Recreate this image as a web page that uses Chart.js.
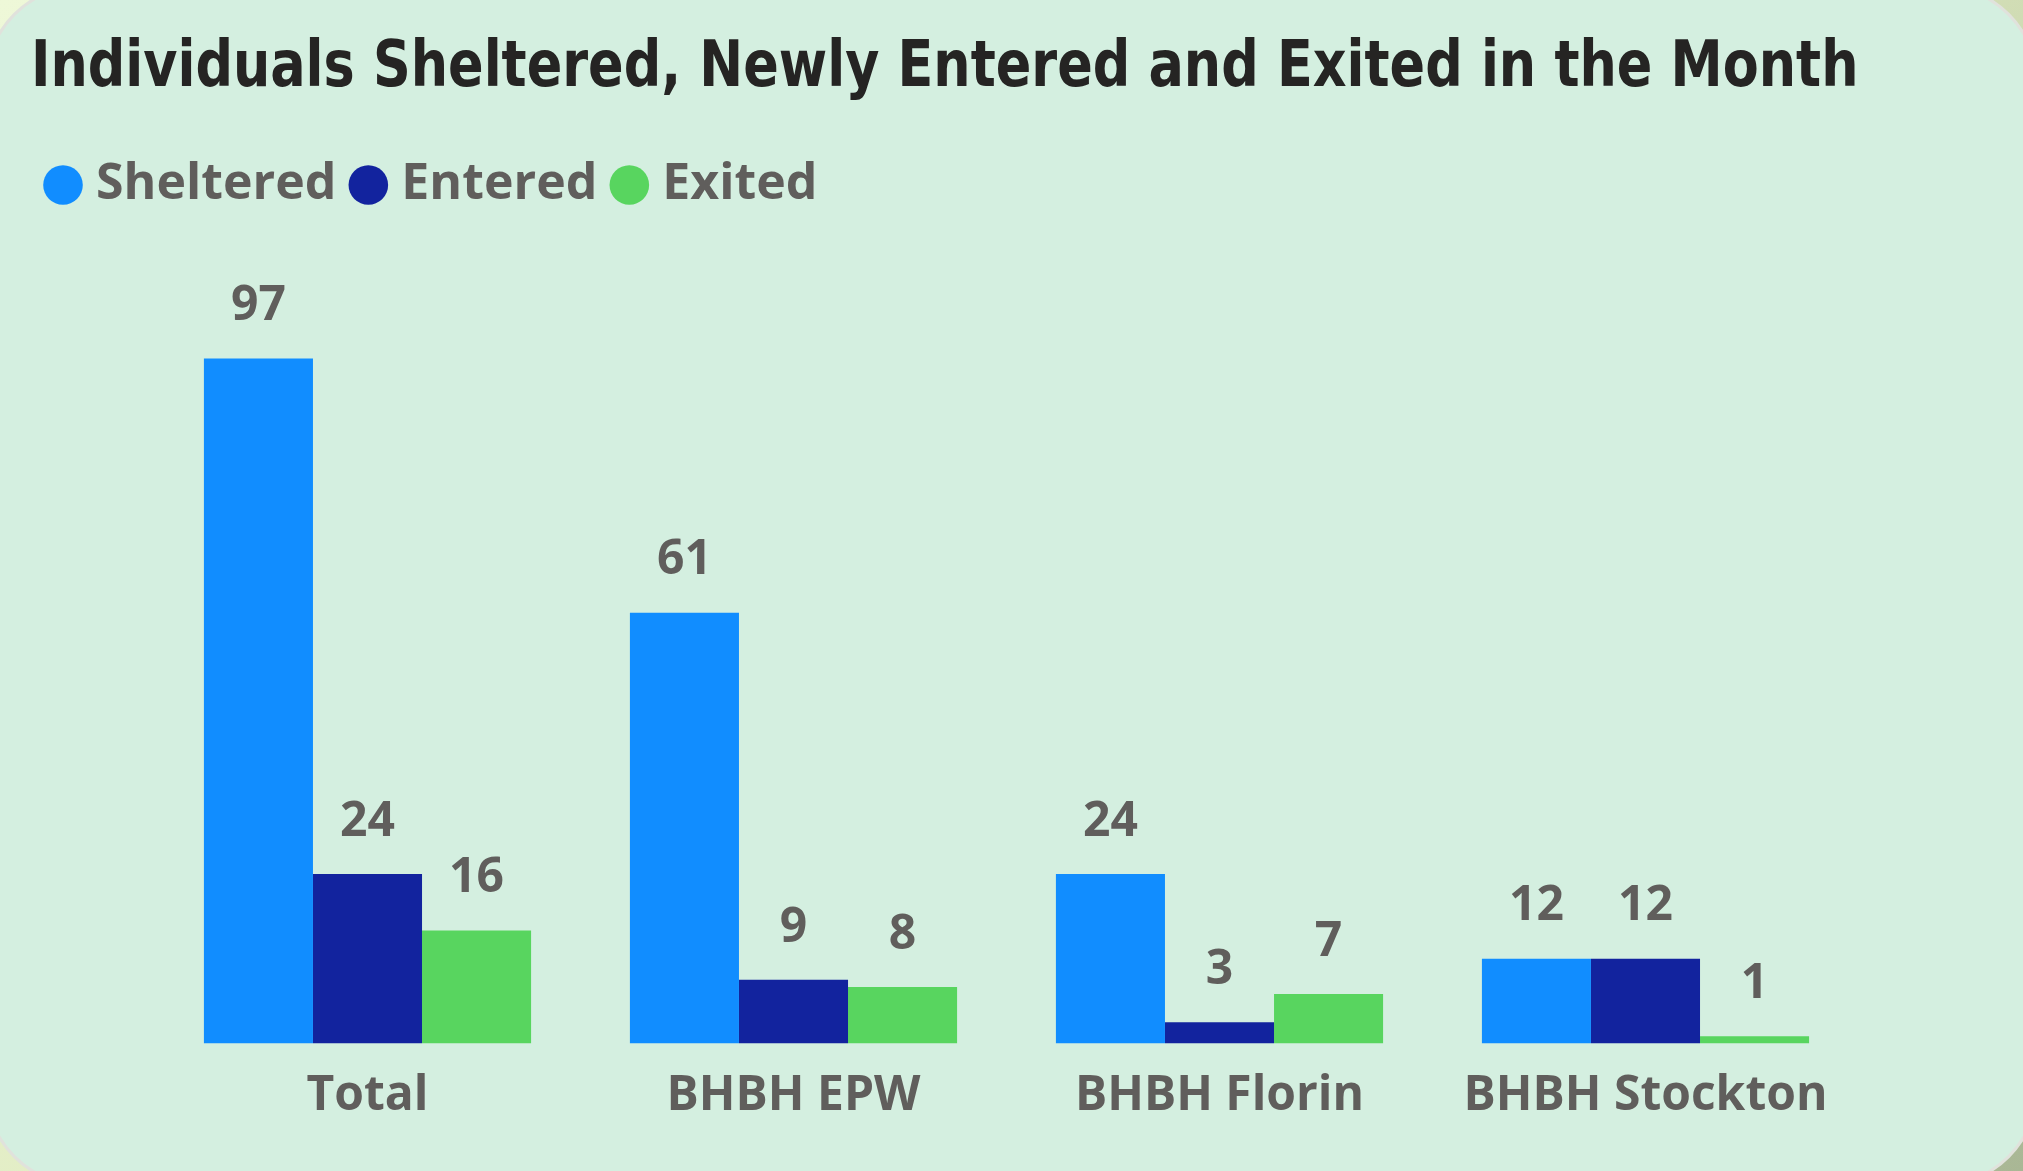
<!DOCTYPE html>
<html>
<head>
<meta charset="utf-8">
<script src="https://cdn.jsdelivr.net/npm/chart.js@4.4.0/dist/chart.umd.min.js"></script>
<style>
  html, body { margin: 0; padding: 0; width: 2023px; height: 1171px; overflow: hidden; }
  body { background: linear-gradient(135deg, #eef8d8 0%, #dfeac0 50%, #a9b795 100%); position: relative; }
  #card { position: absolute; left: -16px; top: -16px; width: 2049px; height: 1197px; border-radius: 100px;
          background: #d4efe0; border: 3px solid #e0e2dc; }
  #c { position: absolute; left: 0; top: 0; }
</style>
</head>
<body>
<div id="card"></div>
<canvas id="c" width="2023" height="1171"></canvas>
<script>
const categories = ["Total", "BHBH EPW", "BHBH Florin", "BHBH Stockton"];
const sheltered = [97, 61, 24, 12];
const entered = [24, 9, 3, 12];
const exited = [16, 8, 7, 1];
const seriesNames = ["Sheltered", "Entered", "Exited"];
const titleText = "Individuals Sheltered, Newly Entered and Exited in the Month";

const valueLabels = {
  id: 'valueLabels',
  afterDatasetsDraw(chart) {
    const ctx = chart.ctx;
    ctx.save();
    ctx.font = "bold 48px 'Open Sans', 'Noto Sans', sans-serif";
    ctx.fillStyle = '#605E5C';
    ctx.textAlign = 'center';
    ctx.textBaseline = 'middle';
    chart.data.datasets.forEach((ds, i) => {
      const meta = chart.getDatasetMeta(i);
      meta.data.forEach((el, j) => {
        ctx.fillText(String(ds.data[j]), el.x, el.y - 52);
      });
    });
    ctx.restore();
  }
};

new Chart(document.getElementById('c'), {
  type: 'bar',
  data: {
    labels: categories,
    datasets: [
      { label: seriesNames[0], data: sheltered, backgroundColor: '#118DFF' },
      { label: seriesNames[1], data: entered, backgroundColor: '#12239E' },
      { label: seriesNames[2], data: exited, backgroundColor: '#58D55F' }
    ]
  },
  options: {
    responsive: false,
    animation: false,
    devicePixelRatio: 1,
    layout: { padding: { left: 31, right: 164.5, top: 0, bottom: 22 } },
    datasets: { bar: { categoryPercentage: 0.768, barPercentage: 1.0, borderWidth: 0 } },
    plugins: {
      tooltip: { enabled: false },
      title: {
        display: true, text: titleText, align: 'start', color: '#252423',
        font: { family: "'DejaVu Sans Condensed', 'Liberation Sans Narrow', 'Roboto', sans-serif", size: 64, weight: 'bold', lineHeight: 1.2 },
        padding: { top: 30.6, bottom: 28.6 }
      },
      legend: {
        display: true, position: 'top', align: 'start',
        labels: {
          usePointStyle: true, pointStyle: 'circle', boxWidth: 16, boxHeight: 28,
          padding: 24, color: '#605E5C',
          font: { family: "'Open Sans', 'Noto Sans', sans-serif", size: 50, weight: 'bold' }
        }
      }
    },
    scales: {
      x: {
        grid: { display: false, drawTicks: false }, border: { display: false },
        ticks: { color: '#605E5C', padding: 24, maxRotation: 0,
                 font: { family: "'Open Sans', 'Noto Sans', sans-serif", size: 48, weight: 'bold', lineHeight: 1.2 } }
      },
      y: {
        min: 0, max: 116.6,
        grid: { display: false, drawTicks: false }, border: { display: false },
        ticks: { display: false },
        afterFit(scale) { scale.width = 123.5; }
      }
    }
  },
  plugins: [valueLabels]
});
</script>
</body>
</html>
